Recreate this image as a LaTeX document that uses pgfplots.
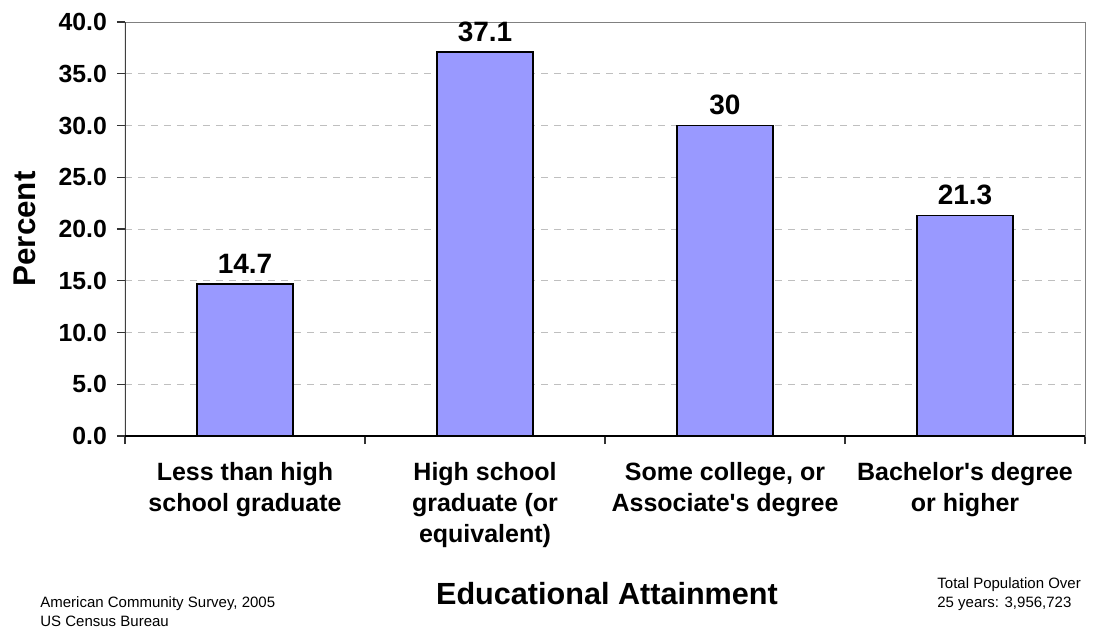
\documentclass[border=0pt]{standalone}
\usepackage{fontspec}
\setmainfont{Liberation Sans}
\usepackage{pgfplots}
\pgfplotsset{compat=1.18}
\definecolor{barblue}{HTML}{9999FF}
\definecolor{gridgray}{HTML}{BFBFBF}
\begin{document}
\begin{tikzpicture}
\begin{axis}[
    at={(0,0)}, anchor=south west,
    scale only axis,
    width=480pt, height=207pt,
    xmin=-0.5, xmax=3.5,
    ymin=0, ymax=40,
    ytick={0,5,...,40},
    xtick={-0.5,0.5,1.5,2.5,3.5},
    xticklabels={},
    extra x ticks={0,1,2,3},
    extra x tick labels={{Less than high\\school graduate},{High school\\graduate (or\\equivalent)},{Some college, or\\Associate\textquotesingle{}s degree},{Bachelor\textquotesingle{}s degree\\or higher}},
    extra x tick style={major tick length=0pt, grid=none},
    tick align=outside,
    xtick pos=lower, ytick pos=left,
    major tick length=4pt,
    tick style={black!80, line width=0.6pt},
    /pgf/number format/assume math mode=true,
    yticklabel style={font=\fontsize{12.4}{14}\selectfont\bfseries, xshift=-1.5pt,
        /pgf/number format/.cd, fixed, fixed zerofill, precision=1, /tikz/.cd},
    xticklabel style={font=\fontsize{12.5}{15.5}\selectfont\bfseries, align=center, yshift=-9.7pt},
    ymajorgrids,
    major grid style={gridgray, dash pattern=on 3.5pt off 3pt, line width=0.5pt},
    axis line style={draw=gray},
    ybar, bar width=48pt,
    nodes near coords,
    every node near coord/.append style={font=\fontsize{14}{16}\selectfont\bfseries, yshift=1.5pt},
]
\addplot[fill=barblue, draw=black, line width=0.75pt]
    coordinates {(0,14.7) (1,37.1) (2,30) (3,21.3)};
\draw[black!75, line width=0.7pt] (rel axis cs:0,1) -- (rel axis cs:0,0);
\draw[black, line width=1pt] (rel axis cs:0,0) -- (rel axis cs:1,0);
\end{axis}
\node[font=\fontsize{15.7}{18}\selectfont\bfseries, rotate=90] at (-50pt,103.5pt) {Percent};
\node[font=\fontsize{15.3}{18}\selectfont\bfseries, anchor=base] at (241pt,-84pt) {Educational Attainment};
\node[font=\fontsize{7.5}{9.7}\selectfont, align=left, anchor=north west, inner sep=0pt]
    at (-42.5pt,-79.9pt) {American Community Survey, 2005\\US Census Bureau};
\node[font=\fontsize{7.5}{9.5}\selectfont, align=left, anchor=north west, inner sep=0pt]
    at (406pt,-70.6pt) {Total Population Over\\25 years: 3,956,723};
\pgfresetboundingbox
\path[use as bounding box] (-62.5pt,-96.5pt) rectangle (484pt,218pt);
\end{tikzpicture}
\end{document}
